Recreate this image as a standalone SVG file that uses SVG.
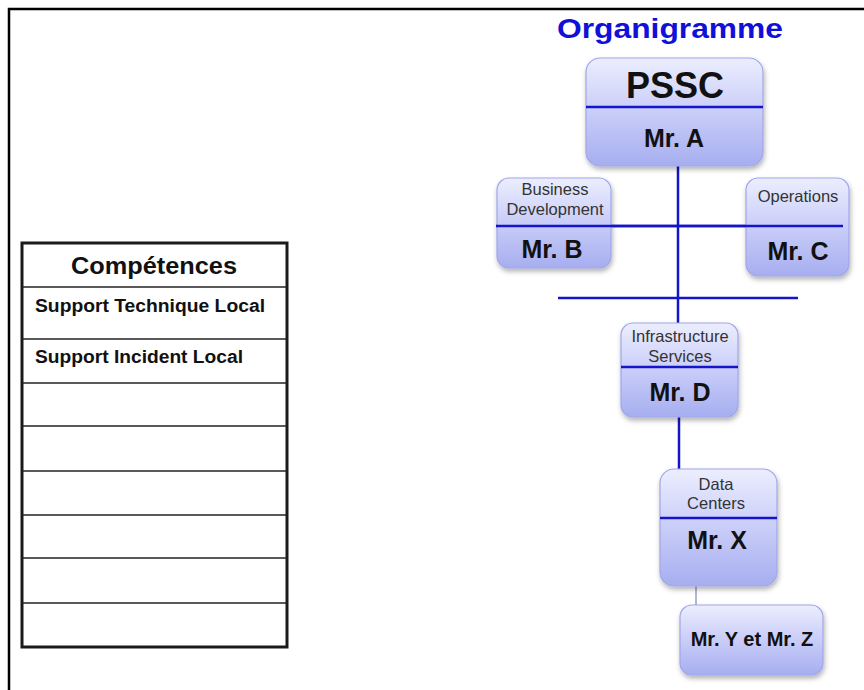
<svg xmlns="http://www.w3.org/2000/svg" width="864" height="690" viewBox="0 0 864 690">
<defs>
<linearGradient id="g" x1="0" y1="0" x2="0" y2="1">
<stop offset="0" stop-color="#eceefe"/>
<stop offset="0.5" stop-color="#c9cdf8"/>
<stop offset="1" stop-color="#a6aef0"/>
</linearGradient>
<filter id="sh" x="-10%" y="-10%" width="125%" height="130%">
<feDropShadow dx="1" dy="3" stdDeviation="2.5" flood-color="#000" flood-opacity="0.3"/>
</filter>
</defs>
<style>
.box{fill:url(#g);stroke:#a0a6ea;stroke-width:1.2;filter:url(#sh)}
.div{stroke:#1414c8;stroke-width:2.5}
.con{stroke:#1414c8;stroke-width:2.5;fill:none}
.t{font-family:"Liberation Sans",Arial,sans-serif;text-anchor:middle}
.sm{font-size:16.5px;fill:#333}
.nm{font-size:25px;font-weight:bold;fill:#111}
.tb{font-family:"Liberation Sans",Arial,sans-serif;font-weight:bold;fill:#111}
.row{stroke:#222;stroke-width:1.5}
</style>
<rect width="864" height="690" fill="#fff"/>
<g id="frame" stroke="#000" stroke-width="2.5" fill="none">
<path d="M9,690 V9 H864"/>
</g>
<text class="t" x="670" y="38" font-size="28" font-weight="bold" fill="#1010d8" textLength="226" lengthAdjust="spacingAndGlyphs">Organigramme</text>

<g id="connectors">
<line class="con" x1="678" y1="166" x2="678" y2="323"/>
<line class="con" x1="496" y1="226" x2="843" y2="226"/>
<line class="con" x1="558" y1="298" x2="798" y2="298"/>
<line class="con" x1="679" y1="417" x2="679" y2="469"/>
<line stroke="#7e88b8" stroke-width="1.2" x1="696" y1="586" x2="696" y2="605"/>
</g>

<g id="pssc">
<rect class="box" x="586" y="58" width="177" height="108" rx="14"/>
<line class="div" x1="586" y1="107" x2="763" y2="107"/>
<text class="t" x="675" y="98" font-size="36" font-weight="bold" fill="#111">PSSC</text>
<text class="t nm" x="674" y="147" font-size="24">Mr. A</text>
</g>

<g id="business">
<rect class="box" x="497" y="178" width="114" height="90" rx="12"/>
<text class="t sm" x="555" y="195">Business</text>
<text class="t sm" x="555" y="215">Development</text>
<text class="t nm" x="552" y="258">Mr. B</text>
</g>

<g id="operations">
<rect class="box" x="746" y="178" width="103" height="98" rx="12"/>
<text class="t sm" x="798" y="202">Operations</text>
<text class="t nm" x="798" y="260">Mr. C</text>
</g>
<line class="div" x1="496" y1="226" x2="843" y2="226"/>

<g id="infra">
<rect class="box" x="621" y="323" width="117" height="94" rx="12"/>
<line class="div" x1="621" y1="367" x2="738" y2="367"/>
<text class="t sm" x="680" y="342">Infrastructure</text>
<text class="t sm" x="680" y="362">Services</text>
<text class="t nm" x="680" y="401">Mr. D</text>
</g>

<g id="datacenters">
<rect class="box" x="660" y="469" width="117" height="117" rx="14"/>
<line class="div" x1="660" y1="518" x2="777" y2="518"/>
<text class="t sm" x="716" y="490">Data</text>
<text class="t sm" x="716" y="509">Centers</text>
<text class="t nm" x="717" y="549">Mr. X</text>
</g>

<g id="myz">
<rect class="box" x="680" y="605" width="143" height="70" rx="12"/>
<text class="t" x="752" y="646" font-size="20" font-weight="bold" fill="#111">Mr. Y et Mr. Z</text>
</g>

<g id="competences">
<rect x="22" y="243" width="265" height="404" fill="#fff" stroke="#1a1a1a" stroke-width="3"/>
<line class="row" x1="22" y1="287" x2="287" y2="287"/>
<line class="row" x1="22" y1="339" x2="287" y2="339"/>
<line class="row" x1="22" y1="383" x2="287" y2="383"/>
<line class="row" x1="22" y1="426" x2="287" y2="426"/>
<line class="row" x1="22" y1="471" x2="287" y2="471"/>
<line class="row" x1="22" y1="515" x2="287" y2="515"/>
<line class="row" x1="22" y1="558" x2="287" y2="558"/>
<line class="row" x1="22" y1="603" x2="287" y2="603"/>
<text class="tb" x="154" y="274" font-size="23" text-anchor="middle" textLength="166" lengthAdjust="spacingAndGlyphs">Compétences</text>
<text class="tb" x="35" y="312" font-size="18" textLength="230" lengthAdjust="spacingAndGlyphs">Support Technique Local</text>
<text class="tb" x="35" y="363" font-size="18" textLength="208" lengthAdjust="spacingAndGlyphs">Support Incident  Local</text>
</g>
</svg>
